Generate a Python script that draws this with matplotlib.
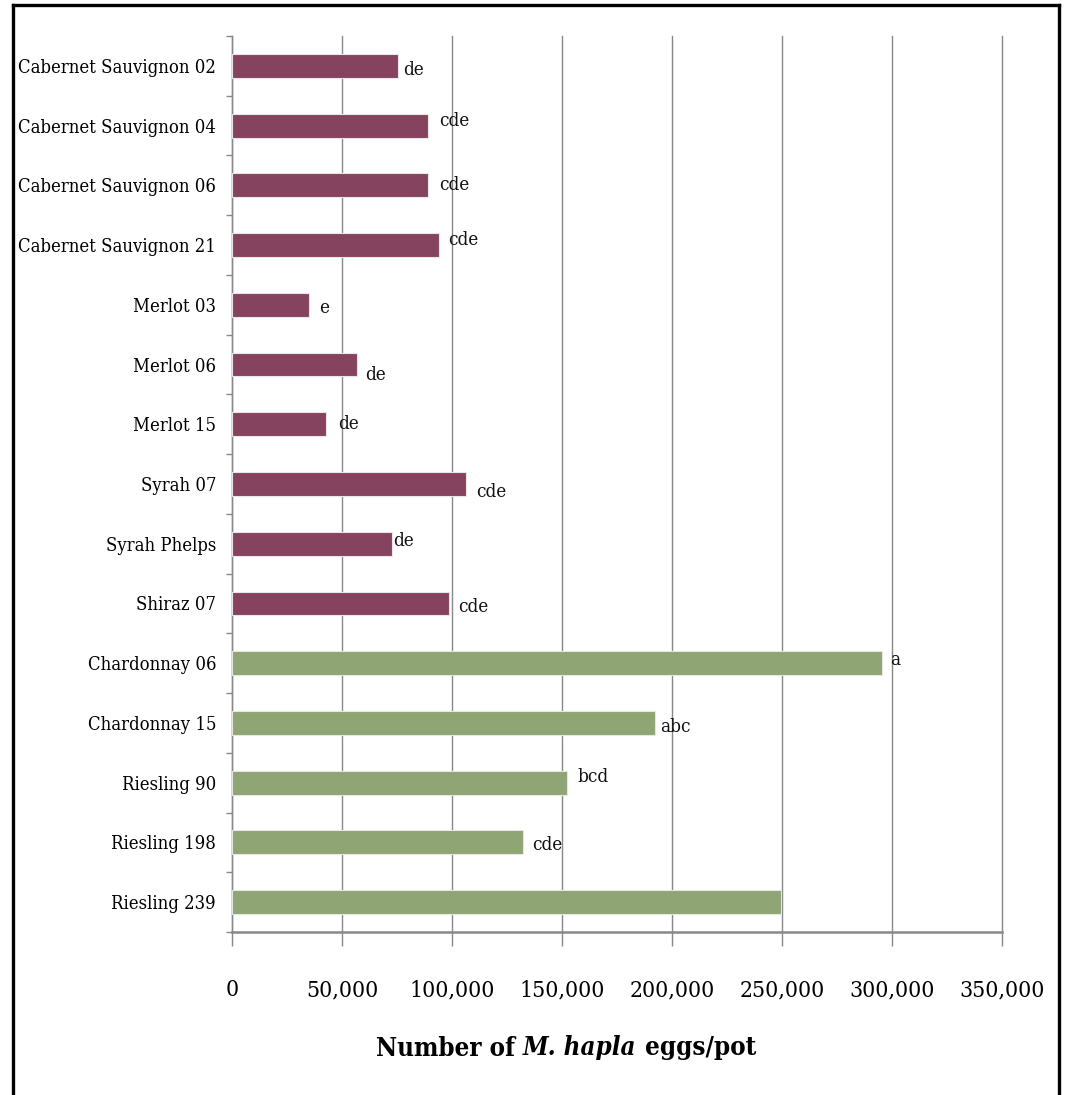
import matplotlib
matplotlib.use("Agg")
import matplotlib.pyplot as plt
from matplotlib.lines import Line2D
from matplotlib.ticker import FuncFormatter, MultipleLocator

# Cultivar / clone names, top to bottom
cultivars = [
    "Cabernet Sauvignon 02", "Cabernet Sauvignon 04", "Cabernet Sauvignon 06",
    "Cabernet Sauvignon 21", "Merlot 03", "Merlot 06", "Merlot 15", "Syrah 07",
    "Syrah Phelps", "Shiraz 07", "Chardonnay 06", "Chardonnay 15",
    "Riesling 90", "Riesling 198", "Riesling 239",
]
# Mean number of M. hapla eggs per pot
eggs = [75500, 89200, 89000, 94100, 35000, 56800, 42700, 106400,
        72700, 98600, 295400, 192300, 152300, 132300, 249500]
# Mean-separation letters
letters = ["de", "cde", "cde", "cde", "e", "de", "de", "cde",
           "de", "cde", "a", "abc", "bcd", "cde", ""]
# Red (True) vs white (False) cultivars
is_red = [True] * 10 + [False] * 5

RED = "#86435F"
WHITE = "#8FA573"
FONT = dict(family=["DejaVu Serif"], stretch="condensed")

# Letter placement relative to bar end, in pixels (dx right, dy down)
letter_offsets = [(5, 4), (11, -5), (11, 0), (9, -5), (10, 3), (8, 10),
                  (12, 0), (10, 8), (1, -3), (9, 4), (8, -3), (5, 4),
                  (10, -6), (9, 3), (0, 0)]

W, H = 1065, 1095
fig = plt.figure(figsize=(W / 100, H / 100), dpi=100)
ax = fig.add_axes([232 / W, 1 - 932 / H, (1002 - 232) / W, (932 - 36) / H])

ypos = list(range(len(cultivars)))
colors = [RED if r else WHITE for r in is_red]
ax.barh(ypos, eggs, height=0.4, color=colors, edgecolor="#e6e6e6",
        linewidth=0.8, zorder=3)

for y, v, lab, (dx, dy) in zip(ypos, eggs, letters, letter_offsets):
    if lab:
        ax.annotate(lab, xy=(v, y), xytext=(dx * 0.72, -dy * 0.72),
                    textcoords="offset points", ha="left", va="center",
                    fontsize=13.5, color="#111111", zorder=4, **FONT)

ax.set_xlim(0, 350000)
ax.set_ylim(len(cultivars) - 0.5, -0.5)
ax.xaxis.set_major_locator(MultipleLocator(50000))
ax.xaxis.set_major_formatter(FuncFormatter(lambda x, p: f"{int(x):,}"))

ax.set_yticks(ypos)
ax.set_yticklabels(cultivars, fontsize=13.2, **FONT)
ax.set_yticks([i - 0.5 for i in range(len(cultivars) + 1)], minor=True)
ax.tick_params(axis="y", which="major", length=0, pad=11.5)
ax.tick_params(axis="y", which="minor", length=4, width=1, color="#888888")
ax.tick_params(axis="x", which="major", length=10, width=1, color="#888888",
               pad=24, labelsize=16.5)
for t in ax.get_xticklabels():
    t.set_family(FONT["family"])
    t.set_stretch(FONT["stretch"])

ax.grid(axis="x", color="#888888", linewidth=1, zorder=0)
for gl in ax.get_xgridlines():
    gl.set_clip_on(False)
ax.set_axisbelow(True)
for s in ("top", "right"):
    ax.spines[s].set_visible(False)
ax.spines["left"].set_color("#888888")
ax.spines["left"].set_linewidth(1)
ax.spines["bottom"].set_color("#888888")
ax.spines["bottom"].set_linewidth(1.8)

# Axis title: upright / italic / upright pieces laid side by side
title_parts = [("Number of ", "normal"), ("M. hapla", "italic"), (" eggs/pot", "normal")]
title_y = 1 - 1048 / H
pieces = [fig.text(0, title_y, s, ha="left", va="center", fontsize=18.5,
                   fontweight="bold", style=st, **FONT) for s, st in title_parts]
fig.canvas.draw()
renderer = fig.canvas.get_renderer()
widths = [p.get_window_extent(renderer).width for p in pieces]
x = 566 - sum(widths) / 2
for p, w in zip(pieces, widths):
    p.set_x(x / W)
    x += w

# Outer frame (left, top, right edges)
frame_kw = dict(color="black", linewidth=2.4, transform=fig.transFigure)
fig.add_artist(Line2D([13 / W, 13 / W], [0, 1 - 5 / H], **frame_kw))
fig.add_artist(Line2D([13 / W, 1059 / W], [1 - 5 / H, 1 - 5 / H], **frame_kw))
fig.add_artist(Line2D([1059 / W, 1059 / W], [0, 1 - 5 / H], **frame_kw))

fig.savefig("out.png", dpi=100, facecolor="white")
